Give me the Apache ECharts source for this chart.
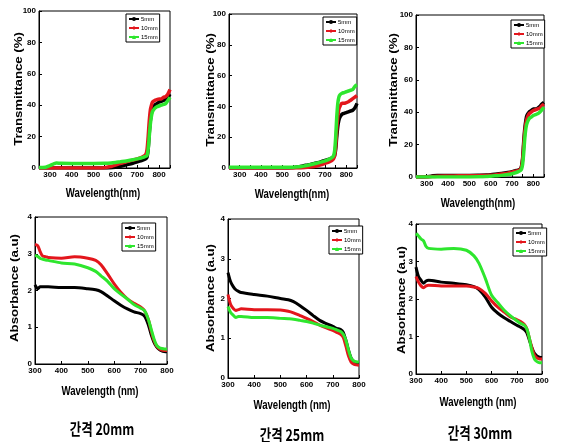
<!DOCTYPE html>
<html><head><meta charset="utf-8">
<script src="https://cdn.jsdelivr.net/npm/echarts@6/dist/echarts.min.js"></script>
<style>html,body{margin:0;padding:0;background:#fff}#c{width:566px;height:442px}</style>
</head><body><div id="c"></div>
<script>
// ---- data ----
const seriesNames = ['5mm', '10mm', '15mm'];
const gapLabels = ['간격 20mm', '간격 25mm', '간격 30mm'];
const xTitleT = 'Wavelength(nm)';
const xTitleA = 'Wavelength (nm)';
const yTitleT = 'Transmittance (%)';
const yTitleA = 'Absorbance (a.u)';

// Transmittance wavelengths (nm)
const wlT = [250,280,300,320,330,350,400,450,500,550,580,600,620,650,680,700,720,730,740,745,750,755,760,765,770,780,790,800,810,820,830,840,850];
// gap 20mm
const t20_5  = [0,0,0,0,0,0,0,0,0,0,0.2,0.5,1,2,3,4,4.8,5.3,6,7,12,22,30,35,38,40,41,42,42.5,43,44,45,47];
const t20_10 = [0,0,0,0,0,0,0,0,0,0.2,1,1.8,2.8,4,5,5.8,6.8,7.5,9,12,20,30,37,40,42,43,43.5,44,44,45,45.5,47,50];
const t20_15 = [0.3,0.5,1.5,2.8,3.2,3,2.9,2.9,2.9,3,3.2,3.5,3.9,4.5,5.2,5.8,6.5,7,7.5,8,12,20,28,33,36,38,39,39.5,40,40.5,41,43,45];
// gap 25mm
const t25_5  = [0,0,0,0,0,0,0,0,0,0.2,0.8,1.5,2,3,4,5,5.8,6.3,7,8,12,20,27,31,33,35,35.5,36,36.5,37,37.5,39,42];
const t25_10 = [0,0,0,0,0,0,0,0,0,0,0,0.2,0.5,1,2,3,4,4.7,6,8,14,25,33,38,40,42,42,42.5,43,44,45,46,47];
const t25_15 = [0.5,0.5,0.5,0.5,0.5,0.5,0.5,0.5,0.5,0.5,0.8,1.2,1.8,2.8,3.8,4.6,5.8,6.5,8,11,20,33,42,46,47.5,48.5,49,49.5,50,50.5,51,53,54];
// gap 30mm
const t30_5  = [0,0,0.2,0.5,0.8,1,1,1,1,1.1,1.2,1.4,1.7,2.2,2.8,3.3,4,4.3,5,7,12,22,30,35,38,40,41,42,42,42.5,43.5,45,46];
const t30_10 = [0,0,0,0.2,0.3,0.5,0.6,0.7,0.8,0.9,1,1.1,1.3,1.8,2.4,2.9,3.6,4,4.8,6.5,11,20,28,33,36,39,40,41,41.5,42,42.5,44,45];
const t30_15 = [0,0,0,0,0,0,0,0,0,0.1,0.3,0.5,0.7,1,1.5,2,2.8,3.3,4,5,8,15,24,30,33,36,37,38,38.5,39,40,41.5,43];

// Absorbance wavelengths (nm)
const wlA = [300,310,320,330,340,350,400,450,500,530,550,575,600,625,650,675,700,715,730,740,750,760,770,780,790,800];
const a20_5  = [2.15,2.05,2.1,2.1,2.1,2.1,2.08,2.08,2.05,2.02,1.97,1.85,1.72,1.6,1.5,1.42,1.37,1.3,1.05,0.8,0.6,0.47,0.4,0.36,0.34,0.33];
const a20_10 = [3.25,3.22,3.05,2.93,2.92,2.9,2.88,2.92,2.88,2.82,2.7,2.45,2.18,1.95,1.77,1.65,1.55,1.45,1.2,0.9,0.65,0.5,0.42,0.38,0.37,0.37];
const a20_15 = [2.95,2.93,2.87,2.85,2.83,2.82,2.75,2.72,2.62,2.52,2.4,2.25,2.05,1.9,1.77,1.62,1.52,1.45,1.2,0.95,0.7,0.52,0.45,0.42,0.41,0.4];
const a25_5  = [2.65,2.42,2.3,2.22,2.18,2.15,2.1,2.06,2.0,1.97,1.92,1.82,1.7,1.57,1.45,1.37,1.3,1.25,1.22,1.15,0.95,0.7,0.5,0.42,0.38,0.37];
const a25_10 = [2.1,1.85,1.75,1.7,1.72,1.74,1.72,1.72,1.71,1.68,1.64,1.57,1.5,1.42,1.33,1.26,1.2,1.15,1.1,1.02,0.8,0.55,0.4,0.35,0.33,0.32];
const a25_15 = [1.8,1.65,1.58,1.52,1.55,1.55,1.52,1.52,1.5,1.49,1.48,1.45,1.42,1.38,1.33,1.29,1.25,1.21,1.17,1.1,0.95,0.7,0.5,0.43,0.41,0.4];
const a30_5  = [2.85,2.6,2.5,2.42,2.48,2.5,2.45,2.42,2.38,2.33,2.25,2.05,1.78,1.62,1.5,1.4,1.3,1.25,1.18,1.1,0.9,0.7,0.55,0.48,0.45,0.44];
const a30_10 = [2.6,2.45,2.35,2.3,2.35,2.37,2.35,2.35,2.35,2.32,2.28,2.15,1.95,1.78,1.65,1.52,1.45,1.4,1.32,1.2,0.95,0.7,0.5,0.43,0.4,0.4];
const a30_15 = [3.75,3.68,3.6,3.55,3.4,3.35,3.33,3.35,3.3,3.15,2.95,2.55,2.1,1.9,1.7,1.55,1.42,1.35,1.3,1.2,0.95,0.6,0.4,0.33,0.3,0.3];

// ---- layout ----
const colors = ['#000000', '#e3161c', '#2ee62e'];
const symbols = ['circle', 'diamond', 'triangle'];
const FN = '"Liberation Sans", Arial, sans-serif';

const panels = [
  {grid:{left:39,top:11,width:131,height:157}, kind:'T', wl:wlT, ys:[t20_5,t20_10,t20_15], leg:{left:126,top:14}, xt:[103,193], yt:[19,89]},
  {grid:{left:229,top:14,width:128,height:154}, kind:'T', wl:wlT, ys:[t25_5,t25_10,t25_15], leg:{left:323,top:17}, xt:[292,194], yt:[211,90]},
  {grid:{left:416,top:15,width:128,height:162}, kind:'T', wl:wlT, ys:[t30_5,t30_10,t30_15], leg:{left:511,top:20}, xt:[478,203], yt:[394,90]},
  {grid:{left:35,top:217,width:132,height:147}, kind:'A', wl:wlA, ys:[a20_5,a20_10,a20_15], leg:{left:122,top:223}, xt:[100,391], yt:[15,288], gap:[102,429]},
  {grid:{left:228,top:219,width:131,height:159}, kind:'A', wl:wlA, ys:[a25_5,a25_10,a25_15], leg:{left:329,top:226}, xt:[292,405], yt:[211,298], gap:[292,435]},
  {grid:{left:416,top:224,width:126,height:150}, kind:'A', wl:wlA, ys:[a30_5,a30_10,a30_15], leg:{left:513,top:228}, xt:[478,402], yt:[402,300], gap:[480,433]}
];

const option = {animation:false, backgroundColor:'#fff', grid:[], xAxis:[], yAxis:[], series:[], legend:[], graphic:[]};
panels.forEach((p, i) => {
  option.grid.push(Object.assign({show:true, borderColor:'#000', borderWidth:1, containLabel:false}, p.grid));
  const isT = p.kind === 'T';
  option.xAxis.push({
    type:'value', gridIndex:i, min:isT?250:300, max:isT?850:800, interval:isT?50:100,
    axisLine:{onZero:false, lineStyle:{color:'#000', width:1}},
    axisTick:{inside:true, length:3, lineStyle:{color:'#000'}},
    splitLine:{show:false},
    axisLabel:{color:'#000', fontFamily:FN, fontWeight:'bold', fontSize:8, margin:3,
      formatter:v => (v % 100 === 0 && v >= 300 && v <= 800) ? String(v) : ''}
  });
  option.yAxis.push({
    type:'value', gridIndex:i, min:0, max:isT?100:4, interval:isT?20:1,
    axisLine:{onZero:false, lineStyle:{color:'#000', width:1}},
    axisTick:{inside:true, length:3, lineStyle:{color:'#000'}},
    splitLine:{show:false},
    axisLabel:{color:'#000', fontFamily:FN, fontWeight:'bold', fontSize:8, margin:3}
  });
  seriesNames.forEach((nm, k) => {
    option.series.push({
      type:'line', name:nm, xAxisIndex:i, yAxisIndex:i,
      data:p.wl.map((w, j) => [w, p.ys[k][j]]),
      showSymbol:false, symbol:symbols[k], symbolSize:4, smooth:0.3,
      lineStyle:{color:colors[k], width:isT?3.5:3}, itemStyle:{color:colors[k]}, z:2+k
    });
  });
  option.legend.push({
    data:seriesNames, orient:'vertical', left:p.leg.left, top:p.leg.top,
    itemWidth:10, itemHeight:5, itemGap:3, padding:[2,2,2,2],
    borderColor:'#000', borderWidth:1, backgroundColor:'#fff', selectedMode:false,
    textStyle:{fontSize:6, color:'#000', fontFamily:FN, padding:[0,0,0,-3]}
  });
  option.graphic.push({type:'text', x:p.xt[0], y:p.xt[1], scaleX:0.74, style:{text:isT?xTitleT:xTitleA, fontFamily:FN, fontWeight:'bold', fontSize:13, fill:'#000', textAlign:'center', textVerticalAlign:'middle'}});
  option.graphic.push({type:'text', x:p.yt[0], y:p.yt[1], rotation:Math.PI/2, scaleX:1.2, style:{text:isT?yTitleT:yTitleA, fontFamily:FN, fontWeight:'bold', fontSize:11, fill:'#000', textAlign:'center', textVerticalAlign:'middle'}});
  if (p.gap) {
    option.graphic.push({type:'text', x:p.gap[0], y:p.gap[1], scaleX:0.78, style:{text:gapLabels[i-3], fontFamily:'"Noto Sans CJK KR", sans-serif', fontWeight:'bold', fontSize:16, fill:'#000', textAlign:'center', textVerticalAlign:'middle'}});
  }
});
const chart = echarts.init(document.getElementById('c'), null, {renderer:'canvas'});
chart.setOption(option);
</script></body></html>
